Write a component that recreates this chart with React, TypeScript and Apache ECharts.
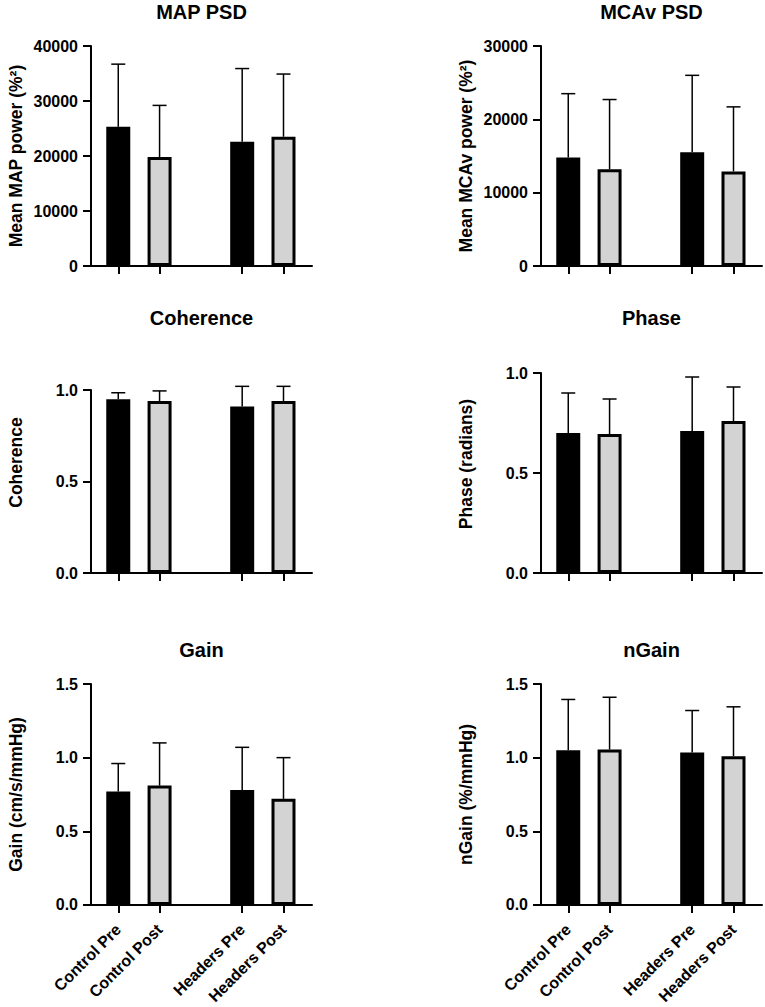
import React, { useEffect, useRef } from "react";
import * as echarts from "echarts";

const categories = ["Control Pre", "Control Post", "Headers Pre", "Headers Post"];
const xPositions = [1, 2, 4, 5];
const barColors = ["#000000", "#d3d3d3", "#000000", "#d3d3d3"];

const mapMean = [25300, 19800, 22600, 23500];
const mapSd = [11400, 9400, 13300, 11400];
const mcavMean = [14800, 13200, 15500, 12900];
const mcavSd = [8700, 9500, 10500, 8800];
const cohMean = [0.95, 0.94, 0.91, 0.94];
const cohSd = [0.035, 0.055, 0.11, 0.08];
const phaseMean = [0.7, 0.695, 0.71, 0.76];
const phaseSd = [0.2, 0.175, 0.27, 0.17];
const gainMean = [0.77, 0.81, 0.78, 0.72];
const gainSd = [0.19, 0.29, 0.29, 0.28];
const ngainMean = [1.05, 1.055, 1.035, 1.01];
const ngainSd = [0.345, 0.355, 0.285, 0.335];

const FONT = "'Liberation Sans', Arial, Helvetica, sans-serif";

type Panel = {
  title: string;
  yName: string;
  mean: number[];
  sd: number[];
  yMax: number;
  yInterval: number;
  decimals: number;
  left: number;
  top: number;
  height: number;
  showX: boolean;
  nameShift: number;
};

const panels: Panel[] = [
  { title: "MAP PSD", yName: "Mean MAP power (%²)", mean: mapMean, sd: mapSd, yMax: 40000, yInterval: 10000, decimals: 0, left: 91, top: 46, height: 220, showX: false, nameShift: 0 },
  { title: "MCAv PSD", yName: "Mean MCAv power (%²)", mean: mcavMean, sd: mcavSd, yMax: 30000, yInterval: 10000, decimals: 0, left: 541, top: 46, height: 220, showX: false, nameShift: 0 },
  { title: "Coherence", yName: "Coherence", mean: cohMean, sd: cohSd, yMax: 1, yInterval: 0.5, decimals: 1, left: 91, top: 390, height: 183, showX: false, nameShift: 38 },
  { title: "Phase", yName: "Phase (radians)", mean: phaseMean, sd: phaseSd, yMax: 1, yInterval: 0.5, decimals: 1, left: 541, top: 373, height: 200, showX: false, nameShift: 18 },
  { title: "Gain", yName: "Gain (cm/s/mmHg)", mean: gainMean, sd: gainSd, yMax: 1.5, yInterval: 0.5, decimals: 1, left: 91, top: 684, height: 221, showX: true, nameShift: 0 },
  { title: "nGain", yName: "nGain (%/mmHg)", mean: ngainMean, sd: ngainSd, yMax: 1.5, yInterval: 0.5, decimals: 1, left: 541, top: 684, height: 221, showX: true, nameShift: 0 },
];

const GRID_W = 221;

export default function App() {
  const ref = useRef<HTMLDivElement>(null);
  useEffect(() => {
    if (!ref.current) return;
    const chart = echarts.init(ref.current, undefined, { renderer: "svg" });

    const grid: any[] = [];
    const xAxis: any[] = [];
    const yAxis: any[] = [];
    const series: any[] = [];
    const graphic: any[] = [];
    const titleY = [12, 12, 318, 318, 650, 650];

    panels.forEach((p, i) => {
      grid.push({ left: p.left, top: p.top, width: GRID_W, height: p.height, containLabel: false });
      xAxis.push({
        type: "value",
        gridIndex: i,
        min: 0.34,
        max: 5.69,
        splitLine: { show: false },
        axisLine: { show: true, onZero: false, lineStyle: { color: "#000", width: 2 } },
        axisTick: { show: true, customValues: xPositions, length: 8, lineStyle: { color: "#000", width: 2 } },
        axisLabel: {
          show: p.showX,
          customValues: xPositions,
          rotate: 45,
          margin: 22,
          padding: [10, 0, 0, 0],
          color: "#000",
          fontFamily: FONT,
          fontWeight: "bold",
          fontSize: 16,
          formatter: (v: number) => {
            const k = xPositions.indexOf(v);
            return k >= 0 ? categories[k] : "";
          },
        },
      });
      yAxis.push({
        type: "value",
        gridIndex: i,
        min: 0,
        max: p.yMax,
        interval: p.yInterval,
        splitLine: { show: false },
        axisLine: { show: true, lineStyle: { color: "#000", width: 2 } },
        axisTick: { show: true, length: 8, lineStyle: { color: "#000", width: 2 } },
        axisLabel: {
          margin: 13,
          color: "#000",
          fontFamily: FONT,
          fontWeight: "bold",
          fontSize: 16,
          formatter: (v: number) => v.toFixed(p.decimals),
        },
        name: p.yName,
        nameLocation: "middle",
        nameGap: 66,
        nameTextStyle: {
          color: "#000",
          fontFamily: FONT,
          fontWeight: "bold",
          fontSize: 17.5,
          padding: [0, 0, 0, p.nameShift],
        },
      });
      series.push({
        type: "bar",
        xAxisIndex: i,
        yAxisIndex: i,
        barWidth: 24,
        data: xPositions.map((x, k) => ({
          value: [x, p.mean[k]],
          itemStyle: { color: barColors[k], borderColor: "#000", borderWidth: 3 },
        })),
        z: 2,
      });
      series.push({
        type: "custom",
        xAxisIndex: i,
        yAxisIndex: i,
        clip: false,
        z: 3,
        encode: { x: 0, y: [1, 2] },
        data: xPositions.map((x, k) => [x, p.mean[k], p.mean[k] + p.sd[k]]),
        renderItem: (params: any, api: any) => {
          const x = api.value(0);
          const m = api.value(1);
          const t = api.value(2);
          const p0 = api.coord([x, m]);
          const p1 = api.coord([x, t]);
          const half = 7;
          return {
            type: "group",
            children: [
              { type: "line", shape: { x1: p0[0], y1: p0[1], x2: p1[0], y2: p1[1] }, style: { stroke: "#000", lineWidth: 1.5 } },
              { type: "line", shape: { x1: p1[0] - half, y1: p1[1], x2: p1[0] + half, y2: p1[1] }, style: { stroke: "#000", lineWidth: 1.5 } },
            ],
          };
        },
      });
      graphic.push({
        type: "text",
        x: p.left + GRID_W / 2,
        y: titleY[i],
        style: {
          text: p.title,
          align: "center",
          verticalAlign: "middle",
          fill: "#000",
          font: `bold 20px ${FONT}`,
        },
      });
    });

    chart.setOption({
      animation: false,
      backgroundColor: "#ffffff",
      grid,
      xAxis,
      yAxis,
      series,
      graphic,
    });
    return () => chart.dispose();
  }, []);

  return (
    <div
      ref={ref}
      style={{ position: "absolute", left: 0, top: 0, width: 765, height: 1007, background: "#fff" }}
    />
  );
}
